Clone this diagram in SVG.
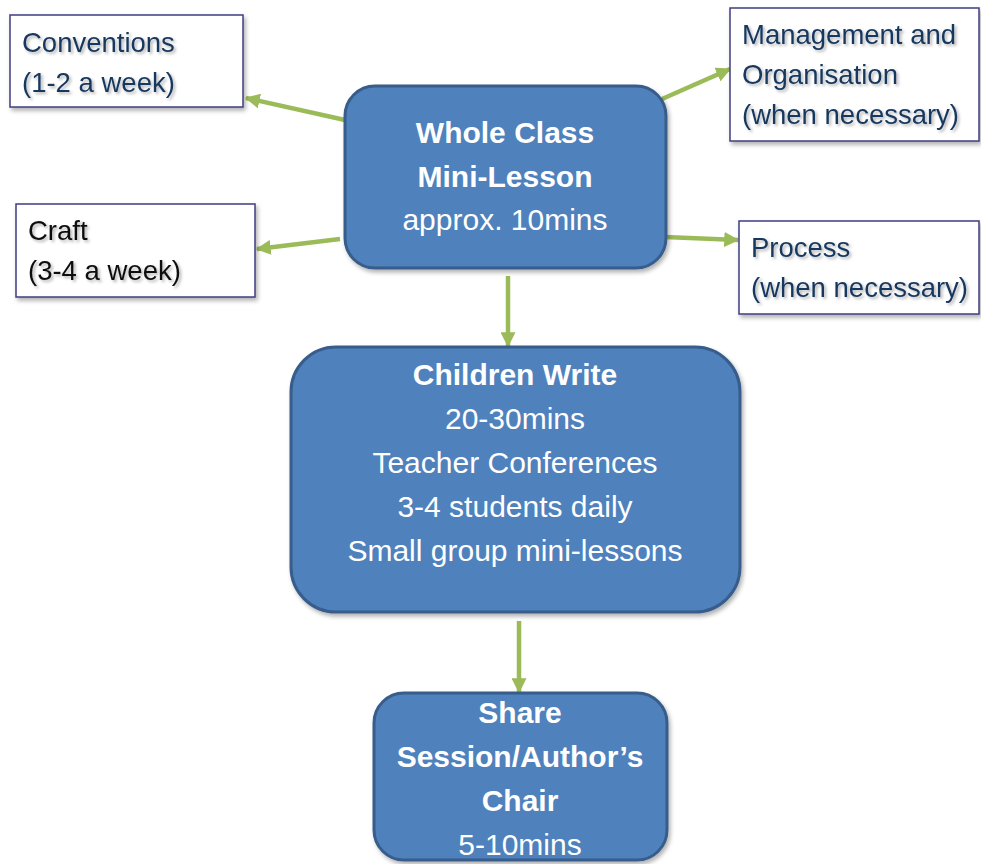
<svg xmlns="http://www.w3.org/2000/svg" width="981" height="864" viewBox="0 0 981 864">
  <defs>
    <filter id="boxShadow" x="-10%" y="-10%" width="125%" height="130%">
      <feDropShadow dx="2" dy="3" stdDeviation="2" flood-color="#000" flood-opacity="0.3"/>
    </filter>
    <filter id="textShadow" x="-5%" y="-20%" width="115%" height="150%">
      <feDropShadow dx="2" dy="2" stdDeviation="1.5" flood-color="#000" flood-opacity="0.3"/>
    </filter>
    <marker id="arrowHead" viewBox="0 0 12 12" refX="11" refY="6" markerWidth="15" markerHeight="15" markerUnits="userSpaceOnUse" orient="auto">
      <path d="M0,0 L12,6 L0,12 Z" fill="#9bbb59"/>
    </marker>
  </defs>
  <style>
    .note { fill: #ffffff; stroke: #3f3d82; stroke-width: 1.5; filter: url(#boxShadow); }
    .step { fill: #4f81bd; stroke: #385d8a; stroke-width: 3; filter: url(#boxShadow); }
    .noteText { font-family: "Liberation Sans", Arial, sans-serif; font-size: 27.5px; fill: #17375e; filter: url(#textShadow); }
    .dark { fill: #111111; }
    .stepText { font-family: "Liberation Sans", Arial, sans-serif; font-size: 30px; fill: #ffffff; text-anchor: middle; }
    .bold { font-weight: bold; }
    .link { stroke: #9bbb59; stroke-width: 4.5; fill: none; marker-end: url(#arrowHead); }
  </style>

  <rect width="981" height="864" fill="#ffffff"/>

  <!-- connectors -->
  <g id="connectors">
    <line class="link" x1="345" y1="120" x2="246" y2="98"/>
    <line class="link" x1="340" y1="239" x2="257" y2="249"/>
    <line class="link" x1="662" y1="99" x2="730" y2="69"/>
    <line class="link" x1="665" y1="237" x2="738" y2="240"/>
    <line class="link" x1="508" y1="276" x2="508" y2="346"/>
    <line class="link" x1="519" y1="621" x2="519" y2="692"/>
  </g>

  <g id="conventions">
    <rect class="note" x="10" y="15" width="233" height="92"/>
    <text class="noteText" x="22" y="52">Conventions</text>
    <text class="noteText" x="22" y="92">(1-2 a week)</text>
  </g>

  <g id="craft">
    <rect class="note" x="16" y="204" width="239" height="93"/>
    <text class="noteText dark" x="28" y="240">Craft</text>
    <text class="noteText dark" x="28" y="280">(3-4 a week)</text>
  </g>

  <g id="management">
    <rect class="note" x="730" y="8" width="249" height="133"/>
    <text class="noteText" x="742" y="44">Management and</text>
    <text class="noteText" x="742" y="84">Organisation</text>
    <text class="noteText" x="742" y="124">(when necessary)</text>
  </g>

  <g id="process">
    <rect class="note" x="739" y="221" width="240" height="93"/>
    <text class="noteText" x="751" y="257">Process</text>
    <text class="noteText" x="751" y="297">(when necessary)</text>
  </g>

  <g id="whole-class">
    <rect class="step" x="345" y="86" width="321" height="182" rx="30" ry="30"/>
    <text class="stepText bold" x="505" y="143">Whole Class</text>
    <text class="stepText bold" x="505" y="187">Mini-Lesson</text>
    <text class="stepText" x="505" y="230">approx. 10mins</text>
  </g>

  <g id="children-write">
    <rect class="step" x="291" y="347" width="449" height="265" rx="45" ry="45"/>
    <text class="stepText bold" x="515" y="385">Children Write</text>
    <text class="stepText" x="515" y="429">20-30mins</text>
    <text class="stepText" x="515" y="473">Teacher Conferences</text>
    <text class="stepText" x="515" y="517">3-4 students daily</text>
    <text class="stepText" x="515" y="561">Small group mini-lessons</text>
  </g>

  <g id="share">
    <rect class="step" x="374" y="693" width="293" height="167" rx="30" ry="30"/>
    <text class="stepText bold" x="520" y="723">Share</text>
    <text class="stepText bold" x="520" y="767">Session/Author’s</text>
    <text class="stepText bold" x="520" y="811">Chair</text>
    <text class="stepText" x="520" y="855">5-10mins</text>
  </g>
</svg>
